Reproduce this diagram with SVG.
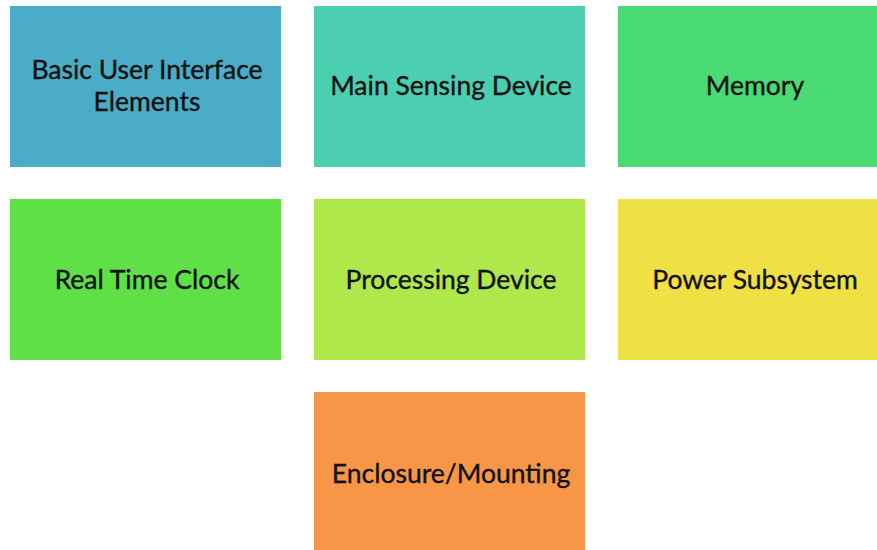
<svg xmlns="http://www.w3.org/2000/svg" width="877" height="550" viewBox="0 0 877 550">
<style>
text{font-family:Lato,"Liberation Sans",sans-serif;font-size:26.5px;fill:#111;stroke:#111;stroke-width:0.35;text-anchor:middle}
</style>
<rect width="877" height="550" fill="#fff"/>
<g id="basic-ui"><rect x="10" y="6" width="271" height="161" fill="#4AACC6"/><text x="147" y="79">Basic User Interface</text><text x="147" y="111">Elements</text></g>
<g id="main-sensing"><rect x="314" y="6" width="271" height="161" fill="#4BCFB0"/><text x="451" y="95">Main Sensing Device</text></g>
<g id="memory"><rect x="618" y="6" width="259" height="161" fill="#4ADA74"/><text x="755" y="95">Memory</text></g>
<g id="rtc"><rect x="10" y="199" width="271" height="161" fill="#5EE046"/><text x="147" y="289">Real Time Clock</text></g>
<g id="processing"><rect x="314" y="199" width="271" height="161" fill="#AEE84A"/><text x="451" y="289">Processing Device</text></g>
<g id="power"><rect x="618" y="199" width="259" height="161" fill="#EFE044"/><text x="755" y="289">Power Subsystem</text></g>
<g id="enclosure"><rect x="314" y="392" width="271" height="158" fill="#F79646"/><text x="451" y="483">Enclosure/Mounting</text></g>
<g id="connectors"></g>
</svg>
